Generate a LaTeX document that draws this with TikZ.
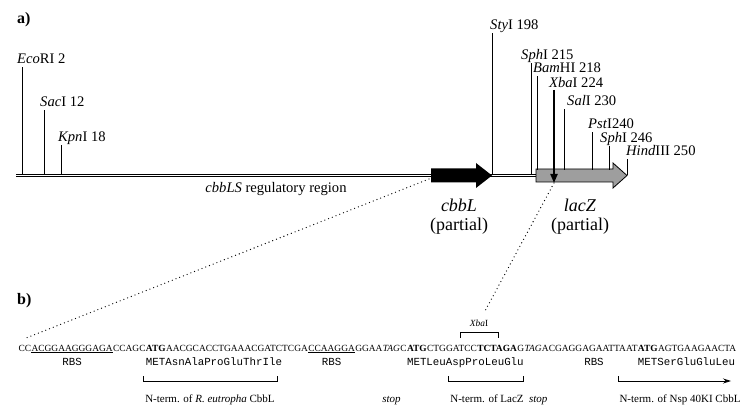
\documentclass[tikz,border=0pt]{standalone}
\usepackage{fontspec}
\setmainfont{Liberation Serif}
\setmonofont{Liberation Mono}
\usetikzlibrary{arrows.meta,positioning}

\begin{document}
\begin{tikzpicture}[x=1pt,y=-1pt,line cap=round,
  site/.style={font=\fontsize{14.6}{17}\selectfont,inner sep=0pt},
  gene/.style={font=\fontsize{18}{20}\selectfont,inner sep=0pt},
  seq/.style={font=\fontsize{9.42}{11}\selectfont,inner sep=0pt},
  aa/.style={font=\fontsize{10.8}{12}\selectfont\ttfamily,inner sep=0pt},
  note/.style={font=\fontsize{11}{13}\selectfont,inner sep=0pt},
  panel/.style={font=\fontsize{16}{18}\selectfont\bfseries,inner sep=0pt},
  zoomline/.style={line width=1.3pt,dash pattern=on 0pt off 4pt},
  brk/.style={line width=0.8pt,line cap=butt}]
\useasboundingbox (0,0) rectangle (747,414);

% a) map of the insert
\node[panel,anchor=base west] (pa) at (17,24) {a)};
\coordinate (bbL) at (16,175.5);
\coordinate (bbR) at (536,175.5);
\draw[line width=0.7pt,double,double distance=1.8pt,line cap=butt] (bbL) -- (bbR);
\fill (431,168.5) -- (476,168.5) -- (476,163) -- (492,175.5) -- (476,188)
  -- (476,182.5) -- (431,182.5) -- cycle;
\filldraw[fill=black!38,line width=0.8pt,line join=miter] (536,169) -- (613,169)
  -- (613,163) -- (627,175.5) -- (613,188) -- (613,182) -- (536,182) -- cycle;
% restriction sites
\foreach \i/\x/\yb/\yt/\dx/\lab in {
  1/22/174/67/-5/{\textit{Eco}RI 2},
  2/44/174/110/-4/{\textit{Sac}I 12},
  3/61/174/145/-3/{\textit{Kpn}I 18},
  4/492/175/33/-2/{\textit{Sty}I 198},
  5/531/174/63/-10/{\textit{Sph}I 215},
  6/537/170/76/-4/{\textit{Bam}HI 218},
  7/564/170/109/3/{\textit{Sal}I 230},
  8/592/170/132/-4/{\textit{Pst}I240},
  9/609/170/146/-9/{\textit{Sph}I 246},
  10/627/175/159/-1/{\textit{Hind}III 250}}{
  \coordinate (s\i) at (\x,\yb);
  \node[site,anchor=base west] (r\i) at (\x+\dx,\yt-3) {\lab};
  \draw[line width=0.9pt,line cap=butt] (s\i) -- (\x,\yt);
}
\node[site,anchor=base west] (xbaLab) at (549,88) {\textit{Xba}I 224};
\coordinate (xbaTop) at (554,90);
\coordinate (xbaTip) at (554,183);
\draw[line width=2pt,line cap=butt,-{Triangle[length=9pt,width=7pt]}] (xbaTop) -- (xbaTip);
\node[site,anchor=base] (reg) at (276,193) {\textit{cbbLS} regulatory region};
\node[gene] (cbbL) at (459,205) {\textit{cbbL}};
\node[gene,below=6pt of cbbL] (cbbLp) {(partial)};
\node[gene] (lacZ) at (580,205) {\textit{lacZ}};
\node[gene,below=6pt of lacZ] (lacZp) {(partial)};

% b) sequence
\node[panel,anchor=base west] (pb) at (17,304) {b)};
\node[seq,anchor=base west] (q0) at (17,351) {};
\foreach \s [count=\i, evaluate=\i as \j using int(\i-1)] in {
  CC, ACGGAAGGGAGA, CCAGC, \textbf{ATG}, AACGCACCTGAAACGATCTCGA,
  CCAAGGA, GGAA, \textit{TAG}, C, \textbf{ATG}, CTGGATCC, \textbf{TCTAGA},
  G, \textit{TAG}, ACGAGGAGAATTAAT, \textbf{ATG}, AGTGAAGAACTA}{
  \node[seq,anchor=base west] (q\i) at (q\j.base east) {\s};
}
\draw[line width=0.6pt,line cap=butt] ([yshift=-1.6pt]q2.base west) -- ([yshift=-1.6pt]q2.base east);
\draw[line width=0.6pt,line cap=butt] ([yshift=-1.6pt]q6.base west) -- ([yshift=-1.6pt]q6.base east);
\coordinate (zoomA) at (429,179);
\coordinate (zoomB) at (26,338);
\draw[zoomline] (zoomA) -- (zoomB);
\coordinate (xbaSeq) at (485,311);
\draw[zoomline] (xbaTip) -- (xbaSeq);
% XbaI site in the sequence
\node[seq,font=\fontsize{9.4}{11}\selectfont] (xba) at (479,323) {\textit{Xba}I};
\draw[brk] (460,338) -- (460,332) -- (498,332) -- (498,338);
% translation
\node[aa,anchor=base] (rbs1) at (q2.base |- 0,365) {RBS};
\node[aa,anchor=base west] (aa1) at (q4.base west |- 0,365) {METAsnAlaProGluThrIle};
\node[aa,anchor=base] (rbs2) at (q6.base |- 0,365) {RBS};
\node[aa,anchor=base west] (aa2) at (q10.base west |- 0,365) {METLeuAspProLeuGlu};
\node[aa,anchor=base] (rbs3) at (594,365) {RBS};
\node[aa,anchor=base west] (aa3) at (q16.base west |- 0,365) {METSerGluGluLeu};
\draw[brk] (143,376) |- (277,381) -- (277,376);
\draw[brk] (448,376) |- (523,381) -- (523,376);
\draw[brk,-{Stealth[length=8pt,width=5pt]}] (618,376) |- (731,381);
\node[note,anchor=base] (n1) at (210,402) {N-term. of \textit{R. eutropha} CbbL};
\node[note,anchor=base] (stop1) at (q8.base |- 0,402) {\textit{stop}};
\node[note,anchor=base] (n2) at (487,402) {N-term. of LacZ};
\node[note,anchor=base west] (stop2) at ([xshift=5pt]n2.base east) {\textit{stop}};
\node[note,anchor=base] (n3) at (680,402) {N-term. of Nsp 40KI CbbL};
\end{tikzpicture}
\end{document}
